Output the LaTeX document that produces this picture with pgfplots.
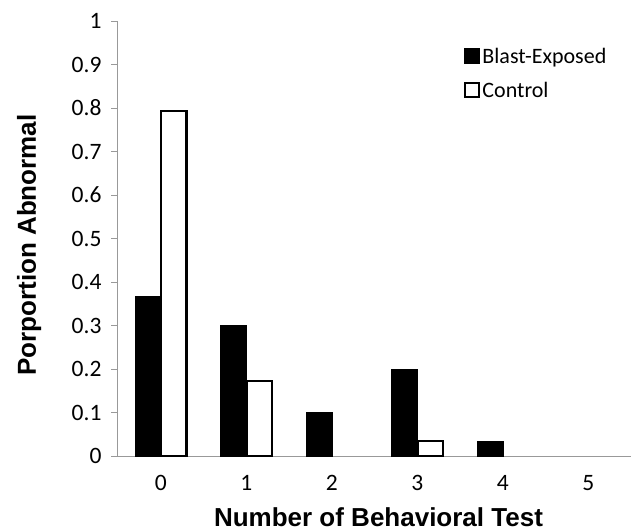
\documentclass[border=0pt]{standalone}
\usepackage{pgfplots}
\pgfplotsset{compat=1.18}
\usepackage{fontspec}
\setmainfont{Carlito}
\newfontfamily\arialf{Liberation Sans}
\begin{document}
\begin{tikzpicture}
\begin{axis}[
  name=ax,
  scale only axis,
  width=513pt, height=435pt,
  ybar=0pt,
  bar width=25.6pt,
  xmin=-0.5, xmax=5.5,
  ymin=0, ymax=1,
  axis lines*=left,
  axis line style={draw=gray!80, line width=1pt},
  xtick={0,1,2,3,4,5},
  xticklabels={0,1,2,3,4,5},
  minor xtick={-0.5,0.5,...,5.5},
  xtick style={draw=none},
  minor tick style={draw=gray!80, line width=1pt},
  minor tick length=7pt,
  ytick={0,0.1,...,1.0},
  yticklabels={0,0.1,0.2,0.3,0.4,0.5,0.6,0.7,0.8,0.9,1},
  ytick style={draw=gray!80, line width=1pt},
  tick align=outside,
  major tick length=7pt,
  ticklabel style={font=\fontsize{23.5}{27}\selectfont},
  xticklabel style={yshift=-9pt},
  yticklabel style={xshift=-6pt},
  xlabel={\arialf\bfseries Number of Behavioral Test},
  ylabel={\arialf\bfseries Porportion Abnormal},
  label style={font=\fontsize{26}{30}\selectfont},
  xlabel style={at={(axis description cs:0.5,0)}, anchor=base, yshift=-70pt, xshift=4pt},
  ylabel style={at={(axis description cs:0,0.485)}, anchor=base, yshift=82pt},
  legend style={draw=none, fill=none, inner sep=0pt, at={(0.675,0.943)}, anchor=north west,
    font=\fontsize{22}{26}\selectfont, row sep=13pt,
    legend cell align=left},
  legend image code/.code={\draw[#1, line width=2pt] (1pt,-7pt) rectangle (15pt,7pt);},
]
\addplot[fill=black, draw=black] coordinates {(0,0.367) (1,0.300) (2,0.100) (3,0.200) (4,0.033)};
\addplot[fill=white, draw=black, line width=2.5pt] coordinates {(0,0.793) (1,0.172) (3,0.034)};
\legend{Blast-Exposed, Control}
\end{axis}
\pgfresetboundingbox
\path ([shift={(-118pt,-75pt)}]ax.south west) rectangle ([shift={(2pt,21pt)}]ax.north east);
\end{tikzpicture}
\end{document}
